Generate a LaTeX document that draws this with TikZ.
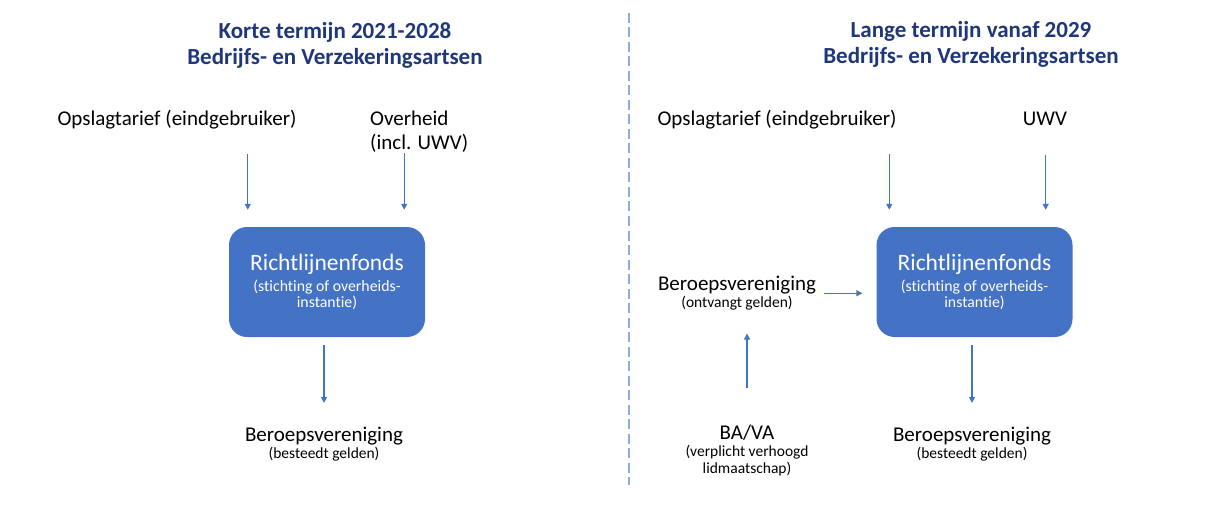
\documentclass[tikz,border=0pt]{standalone}
\usepackage{fontspec}
\setmainfont{Carlito}[Ligatures=NoCommon]
\usepackage{xcolor}
\usetikzlibrary{arrows.meta}

\definecolor{fondsblue}{HTML}{4472C4}
\definecolor{titleblue}{HTML}{1F3778}
\definecolor{sepblue}{HTML}{8FAADC}

\newcommand{\subtxt}[1]{{\fontsize{15.5}{17}\selectfont #1}}

\begin{document}
\begin{tikzpicture}[x=1pt, y=-1pt,
	title/.style={font=\fontsize{23}{26}\selectfont\bfseries, text=titleblue, align=center, inner sep=0pt, anchor=north},
	lbl/.style={font=\fontsize{21}{17}\selectfont, align=center, inner sep=0pt},
	fonds/.style={rounded corners=18pt, fill=fondsblue, text=white, minimum width=196pt, minimum height=110pt, align=center, inner sep=0pt, font=\fontsize{15.8}{16.5}\selectfont},
	arr/.style={draw=fondsblue, line width=1.2pt, -{Triangle[length=6pt, width=6pt]}}]

	\useasboundingbox (0, 0) rectangle (1231, 513);

	% Korte termijn
	\node[title] (titelK) at (335, 22) {Korte termijn 2021-2028\\Bedrijfs- en Verzekeringsartsen};

	\node[lbl, anchor=base] (opslagK) at (177, 126) {Opslagtarief (eindgebruiker)};
	\node[lbl, anchor=north west, align=left, font=\fontsize{21}{24}\selectfont] (overheid) at (370, 111) {Overheid\\(incl. UWV)};
	\node[fonds] (fondsK) at (327, 282) {{\fontsize{23.5}{24}\selectfont Richtlijnenfonds}\\[4pt](stichting of overheids-\\instantie)};
	\node[lbl, anchor=north] (beroepK) at (324, 427) {Beroepsvereniging\\\subtxt{(besteedt gelden)}};

	% Draw the money flows
	\draw[arr, shorten <=24pt, shorten >=17pt] ([xshift=19pt]fondsK.north west |- opslagK.south) -- ([xshift=19pt]fondsK.north west);
	\draw[arr, shorten >=17pt] ([xshift=-21pt]fondsK.north east |- overheid.south) -- ([xshift=-21pt]fondsK.north east);
	\draw[arr, shorten <=8pt, shorten >=24pt] (beroepK.north |- fondsK.south) -- (beroepK.north);

	% Separator
	\draw[sepblue, line width=2pt, dash pattern=on 10pt off 4.5pt] (629, 13) -- (629, 485);

	% Lange termijn
	\node[title] (titelL) at (971, 21) {Lange termijn vanaf 2029\\Bedrijfs- en Verzekeringsartsen};

	\node[lbl, anchor=base] (opslagL) at (777, 126) {Opslagtarief (eindgebruiker)};
	\node[lbl, anchor=base] (uwv) at (1045, 126) {UWV};
	\node[fonds] (fondsL) at (974.5, 282) {{\fontsize{23.5}{24}\selectfont Richtlijnenfonds}\\[4pt](stichting of overheids-\\instantie)};
	\node[lbl, anchor=north] (beroepM) at (737, 276) {Beroepsvereniging\\\subtxt{(ontvangt gelden)}};
	\node[lbl, anchor=north] (bava) at (747, 425) {BA/VA\\\subtxt{(verplicht verhoogd}\\\subtxt{lidmaatschap)}};
	\node[lbl, anchor=north] (beroepL) at (972, 427) {Beroepsvereniging\\\subtxt{(besteedt gelden)}};

	% Draw the money flows
	\draw[arr, shorten <=24pt, shorten >=17pt] ([xshift=13pt]fondsL.north west |- opslagL.south) -- ([xshift=13pt]fondsL.north west);
	\draw[arr, shorten <=29pt, shorten >=17pt] ([xshift=-27pt]fondsL.north east |- uwv.south) -- ([xshift=-27pt]fondsL.north east);
	\draw[arr, shorten <=8pt, shorten >=14pt] (beroepM.east) -- (fondsL.west |- beroepM.east);
	\draw[arr, shorten <=37pt, shorten >=23pt] (bava.north) -- (bava.north |- beroepM.south);
	\draw[arr, shorten <=8pt, shorten >=24pt] (beroepL.north |- fondsL.south) -- (beroepL.north);
\end{tikzpicture}
\end{document}
